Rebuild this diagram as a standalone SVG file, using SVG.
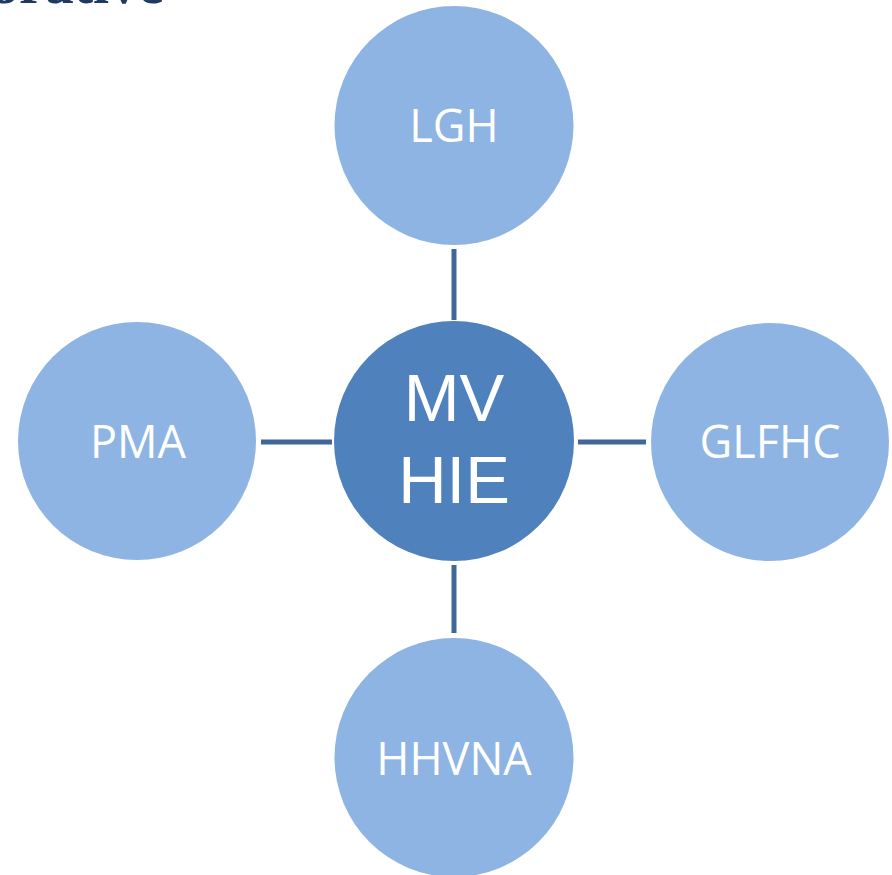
<svg xmlns="http://www.w3.org/2000/svg" width="892" height="875" viewBox="0 0 892 875">
<style>
.sat{fill:#8eb4e3}
.hub{fill:#4f81bd}
.lbl{fill:#ffffff;font-family:"Open Sans","Liberation Sans",Arial,sans-serif;text-anchor:middle}
.s{font-size:45px}
.b{font-family:"Liberation Sans",Arial,sans-serif;font-size:67px}
.con{stroke:#41679a;stroke-width:5;fill:none}
.title{fill:#1f3864;font-family:"Liberation Serif","Times New Roman",serif;font-weight:bold;font-size:58px}
</style>
<rect width="892" height="875" fill="#ffffff"/>
<text class="title" x="-10" y="3">orative</text>
<g id="connectors">
<line class="con" x1="454" y1="249" x2="454" y2="320"/>
<line class="con" x1="261" y1="442" x2="332" y2="442"/>
<line class="con" x1="578" y1="442" x2="646" y2="442"/>
<line class="con" x1="454" y1="565" x2="454" y2="633"/>
</g>
<g id="LGH"><circle class="sat" cx="454" cy="125.5" r="119.5"/><text class="lbl s" x="454" y="142">LGH</text></g>
<g id="PMA"><circle class="sat" cx="137" cy="441" r="119"/><text class="lbl s" x="138" y="458">PMA</text></g>
<g id="GLFHC"><circle class="sat" cx="770" cy="442" r="119"/><text class="lbl s" x="770" y="458">GLFHC</text></g>
<g id="HHVNA"><circle class="sat" cx="454" cy="757.5" r="119.5"/><text class="lbl s" x="454" y="775">HHVNA</text></g>
<g id="MVHIE"><circle class="hub" cx="454" cy="441" r="120"/><text class="lbl b" x="454" y="421">MV</text><text class="lbl b" x="454" y="503">HIE</text></g>
</svg>
